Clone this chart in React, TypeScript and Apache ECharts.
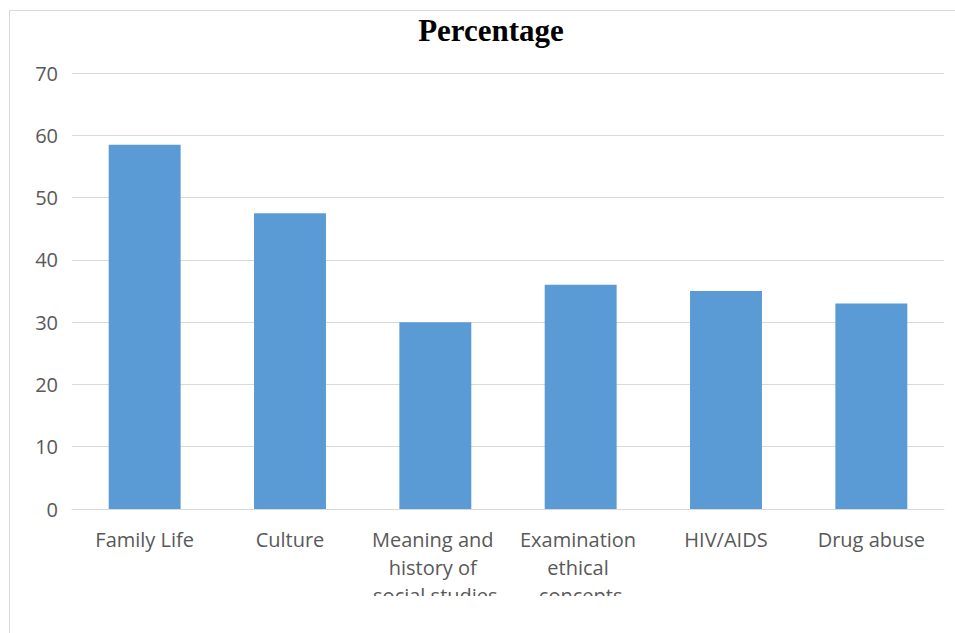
import React, { useEffect, useRef } from "react";
import * as echarts from "echarts";

const categories = [
  "Family Life",
  "Culture",
  "Meaning and history of social studies",
  "Examination ethical concepts",
  "HIV/AIDS",
  "Drug abuse",
];
const percentages = [58.5, 47.5, 30, 36, 35, 33];
const yTicks = { min: 0, max: 70, interval: 10 };
const titleText = "Percentage";

export default function App() {
  const ref = useRef<HTMLDivElement>(null);
  useEffect(() => {
    document.body.style.margin = "0";
    const chart = echarts.init(ref.current!, null, { renderer: "svg" });
    chart.setOption({
      animation: false,
      backgroundColor: "#ffffff",
      title: {
        text: titleText,
        left: 486,
        textAlign: "center",
        top: 10,
        textStyle: {
          fontFamily: "Liberation Serif",
          fontWeight: "bold",
          fontSize: 31,
          color: "#000000",
        },
      },
      grid: { left: 72, right: 11, top: 73, bottom: 124, containLabel: false },
      xAxis: {
        type: "category",
        data: categories,
        axisLine: { show: true, lineStyle: { color: "#d9d9d9", width: 1 } },
        axisTick: { show: false },
        axisLabel: {
          interval: 0,
          margin: 16,
          width: 140,
          overflow: "break",
          lineHeight: 28,
          fontFamily: "Open Sans",
          fontSize: 20,
          color: "#595959",
        },
      },
      yAxis: {
        type: "value",
        min: yTicks.min,
        max: yTicks.max,
        interval: yTicks.interval,
        axisLine: { show: false },
        axisTick: { show: false },
        splitLine: { lineStyle: { color: "#d9d9d9", width: 1 } },
        axisLabel: {
          margin: 14,
          fontFamily: "Open Sans",
          fontSize: 20,
          color: "#595959",
        },
      },
      series: [
        {
          type: "bar",
          data: percentages,
          barWidth: "49.5%",
          itemStyle: { color: "#5b9bd5" },
        },
      ],
      graphic: [
        {
          type: "rect",
          z: 100,
          shape: { x: 10, y: 596, width: 950, height: 40 },
          style: { fill: "#ffffff" },
        },
        {
          type: "rect",
          z: 101,
          shape: { x: 9.5, y: 10.5, width: 960, height: 640 },
          style: { fill: "none", stroke: "#d9d9d9", lineWidth: 1 },
        },
      ],
    });
    return () => chart.dispose();
  }, []);
  return <div ref={ref} style={{ width: 955, height: 633 }} />;
}
